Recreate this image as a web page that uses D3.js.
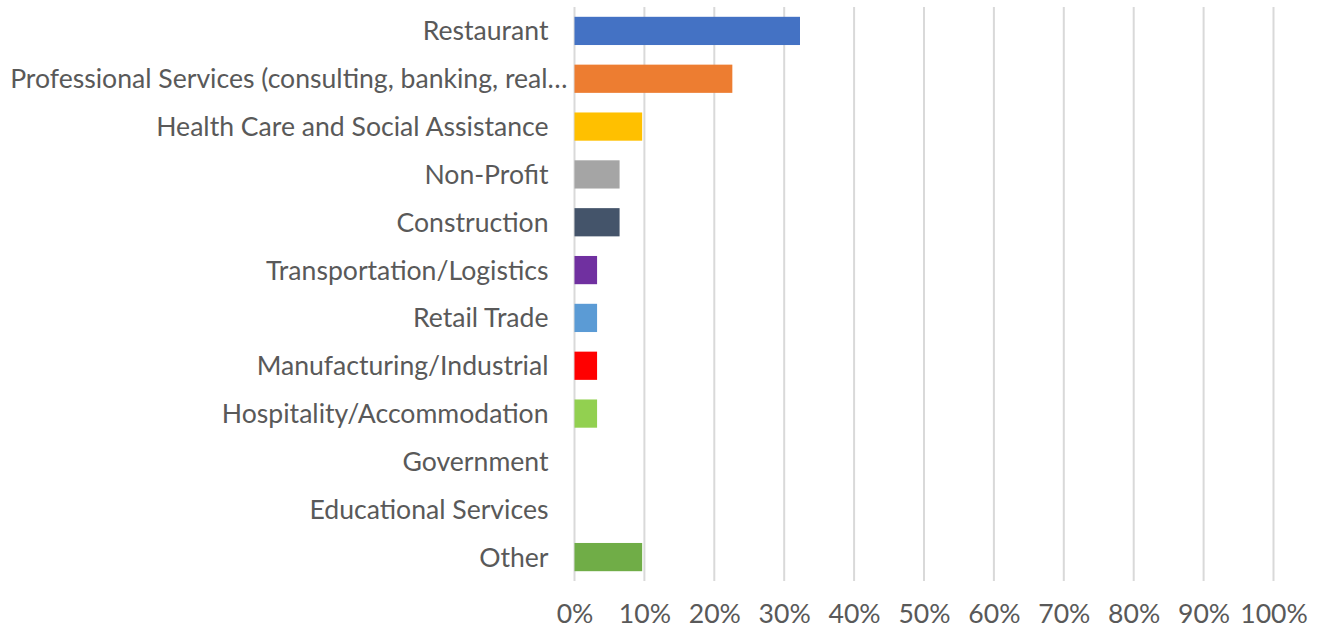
<!DOCTYPE html>
<html>
<head>
<meta charset="utf-8">
<script src="https://cdn.jsdelivr.net/npm/d3@7"></script>
<style>
  html, body { margin: 0; padding: 0; background: #fff; }
  svg { display: block; }
  text { font-family: Lato, "Open Sans", sans-serif; fill: #595959; }
</style>
</head>
<body>
<svg id="chart" width="1320" height="633"></svg>
<script>
// Industry share of respondents
const categories = [
  "Restaurant",
  "Professional Services (consulting, banking, real…",
  "Health Care and Social Assistance",
  "Non-Profit",
  "Construction",
  "Transportation/Logistics",
  "Retail Trade",
  "Manufacturing/Industrial",
  "Hospitality/Accommodation",
  "Government",
  "Educational Services",
  "Other"
];
const shares = [0.3226, 0.2258, 0.0968, 0.0645, 0.0645, 0.0323, 0.0323, 0.0323, 0.0323, 0, 0, 0.0968];
const barColors = ["#4472C4", "#ED7D31", "#FFC000", "#A5A5A5", "#44546A", "#7030A0",
                   "#5B9BD5", "#FF0000", "#92D050", "#264478", "#9E480E", "#70AD47"];
const tickValues = [0, 0.1, 0.2, 0.3, 0.4, 0.5, 0.6, 0.7, 0.8, 0.9, 1.0];

const svg = d3.select("#chart");
const plot = { left: 574.5, right: 1273.5, top: 7, bottom: 581 };
const fontSize = 26.6;

const x = d3.scaleLinear().domain([0, 1]).range([plot.left, plot.right]);
const y = d3.scaleBand().domain(categories).range([plot.top, plot.bottom]).paddingInner(0.41).paddingOuter(0.205);

// vertical gridlines
svg.append("g")
  .selectAll("line")
  .data(tickValues)
  .join("line")
  .attr("x1", d => x(d)).attr("x2", d => x(d))
  .attr("y1", plot.top).attr("y2", plot.bottom)
  .attr("stroke", "#d9d9d9")
  .attr("stroke-width", 2);

// bars
svg.append("g")
  .selectAll("rect")
  .data(categories)
  .join("rect")
  .attr("x", x(0))
  .attr("y", d => y(d))
  .attr("width", (d, i) => x(shares[i]) - x(0))
  .attr("height", y.bandwidth())
  .attr("fill", (d, i) => barColors[i]);

// category labels
const yAxis = d3.axisLeft(y).tickSize(0).tickPadding(0);
const gy = svg.append("g").attr("transform", `translate(${plot.left - 26},1)`).call(yAxis);
gy.select(".domain").remove();
gy.selectAll("text")
  .attr("font-size", fontSize)
  .attr("font-family", "Lato, 'Open Sans', sans-serif")
  .attr("fill", "#595959");
// the truncated long label runs nearly up to the axis
gy.selectAll("text").filter(d => d.endsWith("…")).attr("x", 19);

// percentage axis
const xAxis = d3.axisBottom(x).tickValues(tickValues).tickFormat(d3.format(".0%")).tickSize(0).tickPadding(0);
const gx = svg.append("g").attr("transform", `translate(0,${plot.bottom + 23})`).call(xAxis);
gx.select(".domain").remove();
gx.selectAll("text")
  .attr("font-size", fontSize)
  .attr("font-family", "Lato, 'Open Sans', sans-serif")
  .attr("fill", "#595959");
</script>
</body>
</html>
